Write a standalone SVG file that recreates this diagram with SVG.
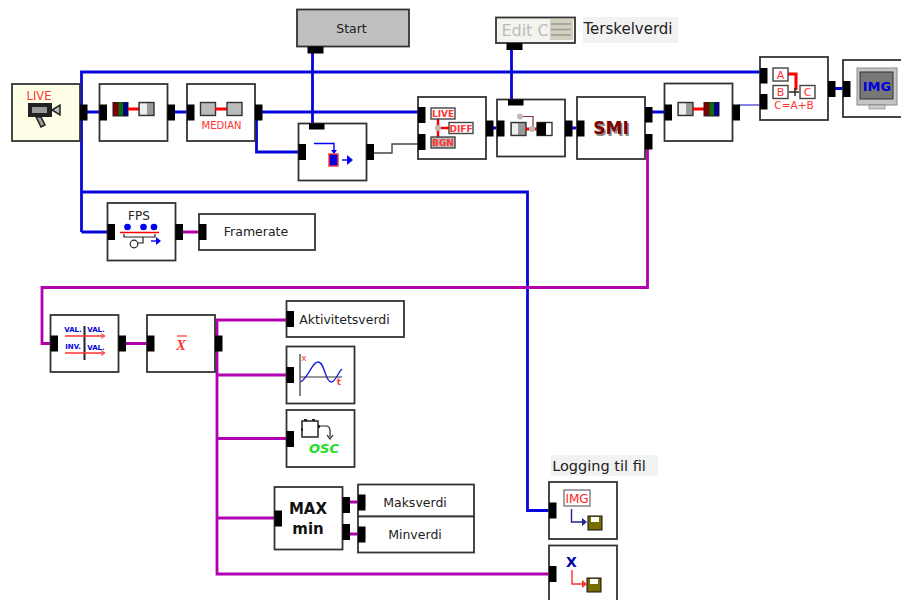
<svg xmlns="http://www.w3.org/2000/svg" width="901" height="600" viewBox="0 0 901 600">
<style>
text{font-family:"DejaVu Sans","Liberation Sans",sans-serif;fill:#222;text-anchor:middle}
.b{fill:#fff;stroke:#333;stroke-width:1.800}
.p{fill:#000;stroke:none}
.w{fill:none;stroke:#0606dc;stroke-width:2.800}
.v{fill:none;stroke:#b000b0;stroke-width:2.800}
.l{font-size:12.500px}
.r{fill:#f33;font-size:9px;font-weight:bold}
.rb{fill:#fff;stroke:#444;stroke-width:1.400}
.red{fill:none;stroke:#f00;stroke-width:3}
.thin{fill:none;stroke:#00f;stroke-width:1.400}
</style>
<rect width="901" height="600" fill="#fff"/>
<g id="connectors">
<path class="w" d="M87 112H99M175 112H187M81.500 232V72H760M81.500 232H107M81.500 192H527.500V510.500H549M262 112H418M256.500 120V152H298M312.500 53V124M511.500 50V100M493 128H497M572 128H577M652 112H664M835 88.500H843"/>
<path d="M739 105H760" fill="none" stroke="#5050d8" stroke-width="1.400"/>
<path d="M374 153H392V144H418" fill="none" stroke="#444" stroke-width="1.400"/>
<path class="v" d="M182 232H199M647.500 149V287.500H42V343.500H50M125 343.500H147M217 350V320H286M217 350V574H549M217 375H286M217 438.500H286M217 518H274M349 502H358M349 534H358"/>
</g>
<g id="live"><rect class="b" x="12" y="84" width="68" height="57" style="fill:#ffffe8"/><rect class="p" x="80" y="104.500" width="7.500" height="16"/>
<text x="39" y="100" class="r" style="font-size:11.500px;font-weight:normal">LIVE</text>
<rect x="28" y="103" width="24" height="14" fill="#222"/><rect x="32" y="107" width="15" height="6" fill="#999"/><path d="M52 110L60 105V115Z" fill="#bbb" stroke="#222" stroke-width="1.500"/><path d="M36 117L41 127L45 125L41 117Z" fill="#999" stroke="#222" stroke-width="1.500"/></g>
<g id="rgb2gray"><rect class="b" x="99.500" y="84" width="68" height="57"/><rect class="p" x="99.500" y="104.500" width="7.500" height="16"/><rect class="p" x="167.500" y="104.500" width="7.500" height="16"/>
<rect x="112.500" y="102" width="16" height="14.500" fill="#222"/><rect x="113.500" y="102.500" width="5" height="13" fill="#800000"/><rect x="118.500" y="102.500" width="4.500" height="13" fill="#087008"/><rect x="123" y="102.500" width="5" height="13" fill="#000080"/>
<path class="red" d="M128 109H139"/><rect x="139" y="102.500" width="15" height="13" fill="#999" stroke="#333" stroke-width="1.400"/><rect x="140" y="103.500" width="7" height="11" fill="#eee"/></g>
<g id="median"><rect class="b" x="187" y="84" width="68" height="57"/><rect class="p" x="187" y="104.500" width="7.500" height="16"/><rect class="p" x="255" y="104.500" width="7.500" height="16"/>
<rect x="200.500" y="102.500" width="15" height="13" fill="#bbb" stroke="#333" stroke-width="1.400"/><path class="red" d="M215 109H227"/><rect x="227" y="102.500" width="15" height="13" fill="#bbb" stroke="#333" stroke-width="1.400"/>
<text x="221.500" y="129" class="r" style="font-size:10px;font-weight:normal">MEDIAN</text></g>
<g id="start"><rect class="b" x="297" y="9.500" width="112" height="37" style="fill:#c0c0c0"/><rect class="p" x="307.500" y="46.500" width="16" height="7"/><text x="351.500" y="33" class="l">Start</text></g>
<g id="switch"><rect class="b" x="298.500" y="123.500" width="68" height="57"/><rect class="p" x="309" y="123.500" width="15.500" height="6"/><rect class="p" x="298.500" y="144" width="7.500" height="16"/><rect class="p" x="366.500" y="144" width="7.500" height="16"/>
<path class="thin" d="M314 143.500H334V152"/><path d="M331 150L334 154L337 150Z" fill="#00f"/><rect x="329" y="154" width="9" height="12" fill="#00d" stroke="#f33" stroke-width="1.400"/><path class="thin" d="M342 160H351"/><path d="M347 155L353 160L347 165Z" fill="#00f"/></g>
<g id="diff"><rect class="b" x="418" y="97" width="68" height="62"/><rect class="p" x="418" y="107" width="7.500" height="16"/><rect class="p" x="418" y="134" width="7.500" height="16"/><rect class="p" x="486" y="120.500" width="7.500" height="16"/>
<path d="M438 128H449M438 119V137" fill="none" stroke="#f00" stroke-width="2.500"/><circle cx="438" cy="128" r="3" fill="#bbb"/>
<rect class="rb" x="431" y="108" width="24" height="11"/><text x="443" y="117" class="r">LIVE</text>
<rect class="rb" x="449" y="122.500" width="24" height="11"/><text x="461" y="131.500" class="r">DIFF</text>
<rect class="rb" x="431" y="137" width="24" height="11" style="fill:#bbb"/><text x="443" y="146" class="r">BGN</text></g>
<g id="edit"><rect class="b" x="496" y="17.500" width="79" height="25.500" style="fill:#f4f4ee"/><rect class="p" x="506.500" y="43" width="16" height="7"/>
<text x="525" y="36" style="font-size:16px;fill:#bbb">Edit C</text><rect x="550" y="19" width="23" height="21" fill="#d4d0c0"/><path d="M551 24H571M551 29.500H571M551 35H571" stroke="#999" fill="none" stroke-width="1.500"/></g>
<g id="terskelverdi-label"><rect x="583" y="17" width="95" height="26" fill="#f2f2f2"/><text x="628" y="34" style="font-size:15px">Terskelverdi</text></g>
<g id="threshold"><rect class="b" x="497" y="99.500" width="68" height="57"/><rect class="p" x="508" y="99.500" width="15.500" height="6"/><rect class="p" x="497" y="120.500" width="7.500" height="16"/><rect class="p" x="565" y="120.500" width="7.500" height="16"/>
<path d="M520 116.500H533V129" fill="none" stroke="#833" stroke-width="1.200"/><circle cx="520" cy="116.500" r="3" fill="#bbb"/><rect x="511" y="122.500" width="15" height="13" fill="#999" stroke="#333" stroke-width="1.400"/><rect x="512" y="123.500" width="6" height="11" fill="#eee"/><path class="red" d="M526 129H537"/><circle cx="532" cy="129" r="3" fill="#bbb"/><rect x="537" y="122.500" width="15" height="13" fill="#fff" stroke="#333" stroke-width="1.400"/><rect x="537" y="122.500" width="9" height="13" fill="#000"/></g>
<g id="smi"><rect class="b" x="577" y="97" width="68" height="62"/><rect class="p" x="577" y="120.500" width="7.500" height="16"/><rect class="p" x="645" y="107" width="7.500" height="15.500"/><rect class="p" x="645" y="134" width="7.500" height="15.500"/>
<text x="611" y="134" style="font-size:17px;font-weight:bold;fill:#800000;text-shadow:1.500px 1.500px 0 #888">SMI</text></g>
<g id="gray2rgb"><rect class="b" x="664.500" y="83.500" width="68" height="57.500"/><rect class="p" x="664.500" y="104.500" width="7.500" height="16"/><rect class="p" x="732.500" y="104.500" width="7.500" height="16"/>
<rect x="678" y="102.500" width="15" height="13" fill="#999" stroke="#333" stroke-width="1.400"/><rect x="679" y="103.500" width="7" height="11" fill="#eee"/><path class="red" d="M693 109H704"/><rect x="703.500" y="102" width="16" height="14.500" fill="#222"/><rect x="704.500" y="102.500" width="5" height="13" fill="#800000"/><rect x="709.500" y="102.500" width="4.500" height="13" fill="#087008"/><rect x="714" y="102.500" width="5" height="13" fill="#000080"/></g>
<g id="add"><rect class="b" x="760" y="57" width="68" height="63"/><rect class="p" x="760" y="68" width="7.500" height="15.500"/><rect class="p" x="760" y="94" width="7.500" height="15.500"/><rect class="p" x="828" y="81" width="7.500" height="16"/>
<path d="M788 74H796V90" fill="none" stroke="#f00" stroke-width="3"/><path d="M789 92H799M795 88V96" fill="none" stroke="#222" stroke-width="1.400"/>
<rect class="rb" x="773" y="68" width="15" height="13"/><text x="780.500" y="78.500" class="r" style="font-weight:normal;font-size:11px">A</text>
<rect class="rb" x="773" y="85.500" width="15" height="13"/><text x="780.500" y="96" class="r" style="font-weight:normal;font-size:11px">B</text>
<rect class="rb" x="800" y="85.500" width="15" height="13"/><text x="807.500" y="96" class="r" style="font-weight:normal;font-size:11px">C</text>
<text x="794" y="109" class="r" style="font-weight:normal;font-size:10.500px">C=A+B</text></g>
<g id="img"><rect class="b" x="843" y="60" width="60" height="57"/><rect class="p" x="843" y="81" width="7.500" height="16"/>
<rect x="857" y="68" width="40" height="37" fill="#c4c4c4" stroke="#888"/><rect x="860" y="72" width="33" height="27" fill="#777" stroke="#333"/><rect x="869" y="105" width="16" height="4" fill="#ccc" stroke="#666" stroke-width=".5"/><text x="877" y="91" style="font-size:13px;font-weight:bold;fill:#00d">IMG</text></g>
<g id="fps"><rect class="b" x="107.500" y="203" width="68" height="57.500"/><rect class="p" x="107.500" y="224" width="7.500" height="16"/><rect class="p" x="175.500" y="224" width="7.500" height="16"/>
<text x="139" y="220" style="font-size:12px">FPS</text><circle cx="127.500" cy="227" r="3.300" fill="#00e"/><circle cx="143.500" cy="227" r="3.300" fill="#00e"/><circle cx="154" cy="227" r="3.300" fill="#00e"/><path d="M120 232.500H159" stroke="#f00" stroke-width="1.400"/><path d="M124 234V237H155V234M143 237V243H138" fill="none" stroke="#222" stroke-width="1.200"/><circle cx="134" cy="244" r="3.800" fill="#fff" stroke="#222" stroke-width="1.200"/><path class="thin" d="M151 241H158"/><path d="M156 237L161 241L156 245Z" fill="#00f"/></g>
<g id="framerate"><rect class="b" x="199" y="214" width="116" height="36"/><rect class="p" x="199" y="224" width="7.500" height="16"/><text x="256" y="236" class="l">Framerate</text></g>
<g id="invert"><rect class="b" x="50.500" y="315" width="68" height="57"/><rect class="p" x="50.500" y="335.500" width="7.500" height="16"/><rect class="p" x="118.500" y="335.500" width="7.500" height="16"/>
<path d="M84.500 326V360" stroke="#222" stroke-width="2"/><path d="M65 336H104M65 353H104" stroke="#f33" stroke-width="1.400"/><path d="M101 333.500L105 336L101 338.500M101 350.500L105 353L101 355.500" fill="none" stroke="#f33"/>
<text x="73" y="332" class="r" style="fill:#00d;font-size:7px">VAL.</text><text x="96" y="332" class="r" style="fill:#00d;font-size:7px">VAL.</text><text x="73" y="349" class="r" style="fill:#00d;font-size:7px">INV.</text><text x="96" y="350" class="r" style="fill:#00d;font-size:7px">VAL.</text></g>
<g id="mean"><rect class="b" x="147" y="315" width="68" height="57"/><rect class="p" x="147" y="335.500" width="7.500" height="16"/><rect class="p" x="215" y="335.500" width="7.500" height="16"/>
<path d="M177 336H187" stroke="#f33" stroke-width="1.200"/><text x="181" y="349.500" style="font-family:'Liberation Serif',serif;font-style:italic;font-weight:bold;font-size:15px;fill:#f33">X</text></g>
<g id="aktivitetsverdi"><rect class="b" x="286.500" y="301" width="117.500" height="36"/><rect class="p" x="286.500" y="311" width="7.500" height="16"/><text x="344.500" y="324" class="l">Aktivitetsverdi</text></g>
<g id="plot"><rect class="b" x="286.500" y="346.500" width="68" height="57"/><rect class="p" x="286.500" y="367" width="7.500" height="16"/>
<path d="M300 354V396M300 377H342" stroke="#333" fill="none" stroke-width="1.200"/><path d="M301 382C310 375 312 362 318 362C325 362 325 382 331 382C336 382 338 372 342 369" fill="none" stroke="#22d" stroke-width="1.400"/><text x="304" y="361" style="font-size:9px;fill:#f33">x</text><text x="339" y="385" style="font-size:9px;font-weight:bold;fill:#f33">t</text></g>
<g id="osc"><rect class="b" x="286.500" y="410" width="68" height="57"/><rect class="p" x="286.500" y="431" width="7.500" height="16"/>
<path d="M302 421V437H318V421Z" fill="#fff" stroke="#222" stroke-width="1.500"/><path d="M304 419h3v2h-3zM312 419h3v2h-3zM301 428h2v3h-2zM318 425h2v3h-2z" fill="#222"/><path d="M320 426H326Q330 426 330 431V437M327 435L330 439L333 435" fill="none" stroke="#222" stroke-width="1.200"/>
<text x="324" y="453" style="font-size:13px;font-weight:bold;font-style:italic;fill:#1ee01e">OSC</text></g>
<g id="maxmin"><rect class="b" x="274.500" y="487" width="68" height="62.500"/><rect class="p" x="274.500" y="510.500" width="7.500" height="16"/><rect class="p" x="342.500" y="497" width="7.500" height="16"/><rect class="p" x="342.500" y="524" width="7.500" height="16"/>
<text x="308" y="514" style="font-size:15px;font-weight:bold;fill:#111">MAX</text><text x="308" y="534" style="font-size:15px;font-weight:bold;fill:#111">min</text></g>
<g id="maksverdi"><rect class="b" x="358" y="484.500" width="116" height="32"/><rect class="p" x="358" y="494.500" width="7.500" height="16"/><text x="415" y="507" class="l">Maksverdi</text></g>
<g id="minverdi"><rect class="b" x="358" y="516.500" width="116" height="36"/><rect class="p" x="358" y="526.500" width="7.500" height="16"/><text x="415" y="539" class="l">Minverdi</text></g>
<g id="logging-label"><rect x="551" y="455" width="107" height="21" fill="#f2f2f2"/><text x="599" y="471" style="font-size:14.500px">Logging til fil</text></g>
<g id="log-img"><rect class="b" x="549" y="482" width="68" height="57"/><rect class="p" x="549" y="502.500" width="7.500" height="16"/>
<rect x="564" y="490" width="26" height="16" fill="#fff" stroke="#666" stroke-width="1.200"/><text x="577" y="503" style="font-size:12px;fill:#f22">IMG</text><path d="M571.500 509V522H583" fill="none" stroke="#229" stroke-width="1.400"/><path d="M582 518L587 522L582 526Z" fill="#229"/><rect x="588" y="516" width="14" height="14" fill="#776d00" stroke="#111"/><rect x="591" y="517" width="8" height="5" fill="#fff"/></g>
<g id="log-x"><rect class="b" x="549" y="545.500" width="68" height="57"/><rect class="p" x="549" y="566" width="7.500" height="16"/>
<text x="571.500" y="567" style="font-size:14px;font-weight:bold;fill:#00a">X</text><path d="M572 570V584H583" fill="none" stroke="#f33" stroke-width="1.400"/><path d="M582 580L587 584L582 588Z" fill="#f33"/><rect x="587" y="578" width="14" height="14" fill="#776d00" stroke="#111"/><rect x="590" y="579" width="8" height="5" fill="#fff"/></g>
</svg>
